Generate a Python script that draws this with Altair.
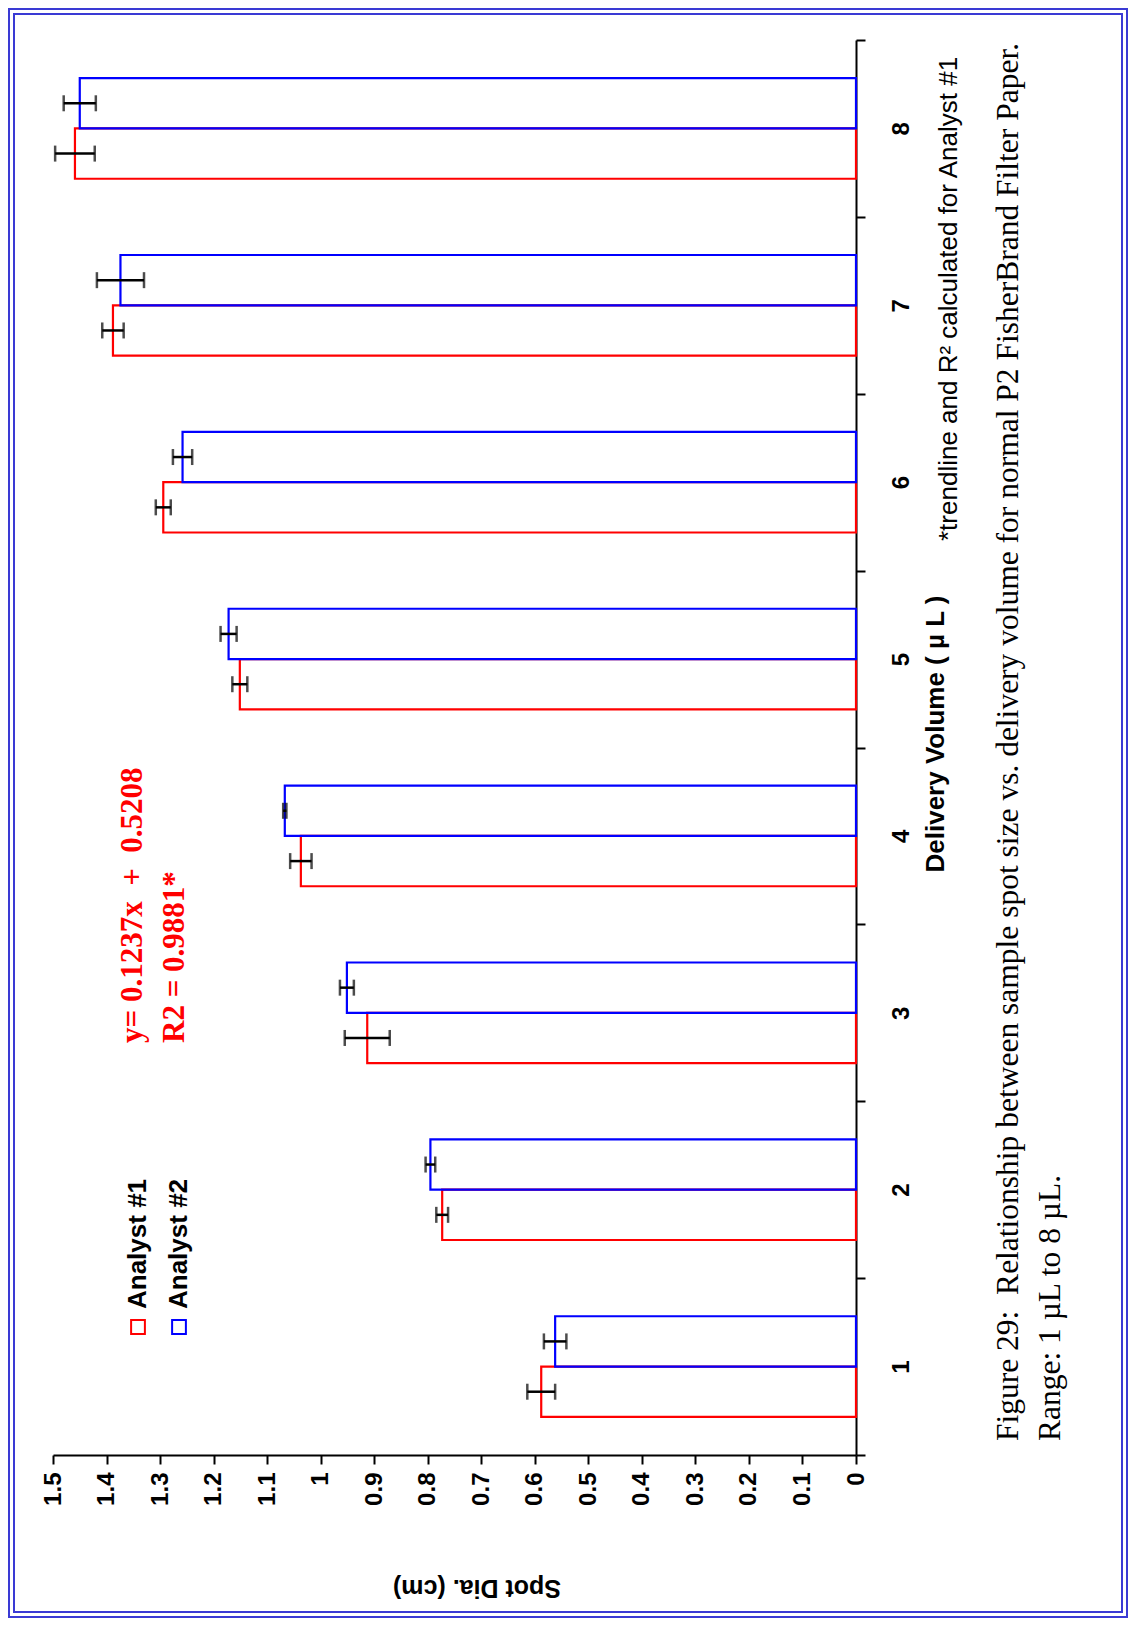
import altair as alt
import pandas as pd

# ---- data ----
volumes = ["1", "2", "3", "4", "5", "6", "7", "8"]
analysts = ["Analyst #1", "Analyst #2"]
analyst1 = [0.588, 0.773, 0.913, 1.037, 1.151, 1.294, 1.388, 1.459]
analyst1_err = [0.026, 0.011, 0.042, 0.020, 0.014, 0.014, 0.020, 0.037]
analyst2 = [0.562, 0.795, 0.951, 1.067, 1.172, 1.258, 1.374, 1.450]
analyst2_err = [0.021, 0.009, 0.013, 0.003, 0.015, 0.018, 0.044, 0.030]
value_ticks = [i / 10 for i in range(16)]
colors = ["#ff0000", "#0000ff"]

x_title = ["Delivery Volume ( µ L )"]
y_title = ["Spot Dia. (cm)"]
equation = ["y= 0.1237x\u00a0 +\u00a0 0.5208", "R2 = 0.9881*"]
note = ["*trendline and R² calculated for Analyst #1"]
caption = ["Figure 29:\u00a0 Relationship between sample spot size vs. delivery volume for normal P2 FisherBrand Filter Paper.",
           "Range: 1 µL to 8 µL."]

rows = []
for i, v in enumerate(volumes):
    for name, vals, errs in ((analysts[0], analyst1, analyst1_err), (analysts[1], analyst2, analyst2_err)):
        rows.append({"vol": v, "analyst": name, "value": vals[i],
                     "lo": vals[i] - errs[i], "hi": vals[i] + errs[i]})
df = pd.DataFrame(rows)

W, H = 803, 1415
SANS = "Liberation Sans"
SERIF = "Liberation Serif"

y_enc = alt.Y("vol:N", sort=volumes[::-1],
              scale=alt.Scale(paddingInner=0, paddingOuter=0),
              axis=alt.Axis(orient="right", title=None, tickBand="extent",
                            labelAngle=270, labelAlign="center", labelBaseline="top",
                            labelFont=SANS, labelFontWeight="bold", labelFontSize=24,
                            labelColor="black", labelPadding=24,
                            domainColor="black", domainWidth=2,
                            tickColor="black", tickWidth=2, tickSize=9, grid=False))
yoff_enc = alt.YOffset("analyst:N", sort=[analysts[1], analysts[0]],
                       scale=alt.Scale(paddingInner=0, paddingOuter=0.758))
x_scale = alt.Scale(domain=[0, 1.5], reverse=True, nice=False, zero=True)
x_axis = alt.Axis(orient="bottom", title=None, values=value_ticks, format="~g", labelAngle=270,
                  labelAlign="right", labelBaseline="middle",
                  labelFont=SANS, labelFontWeight="bold", labelFontSize=24,
                  labelColor="black", labelPadding=8,
                  domainColor="black", domainWidth=2,
                  tickColor="black", tickWidth=2, tickSize=9, grid=False)
color_enc = alt.Color("analyst:N", scale=alt.Scale(domain=analysts, range=colors), legend=None)

base = alt.Chart(df)
bars = base.mark_bar(filled=False, strokeWidth=2.2).encode(
    x=alt.X("value:Q", scale=x_scale, axis=x_axis),
    y=y_enc, yOffset=yoff_enc, color=color_enc)
err = base.mark_rule(color="black", strokeWidth=2.5).encode(
    x=alt.X("lo:Q", scale=x_scale), x2="hi:Q", y=y_enc, yOffset=yoff_enc)
cap_lo = base.mark_tick(color="black", thickness=2.5, size=16).encode(
    x=alt.X("lo:Q", scale=x_scale), y=y_enc, yOffset=yoff_enc)
cap_hi = base.mark_tick(color="black", thickness=2.5, size=16).encode(
    x=alt.X("hi:Q", scale=x_scale), y=y_enc, yOffset=yoff_enc)


def label(texts, idx, x, y, font, size, weight="normal", color="black",
          angle=270, align="left", baseline="middle"):
    return alt.Chart(alt.Data(values=[{"t": texts[idx]}])).mark_text(
        font=font, fontSize=size, fontWeight=weight, color=color,
        angle=angle, align=align, baseline=baseline).encode(
        text="t:N", x=alt.value(x), y=alt.value(y))


def square(idx, x, y):
    return alt.Chart(alt.Data(values=[{"a": analysts[idx]}])).mark_point(
        shape="square", filled=False, size=190, strokeWidth=2, color=colors[idx], opacity=1).encode(
        x=alt.value(x), y=alt.value(y))


def frame(x1, y1, x2, y2):
    return alt.Chart(alt.Data(values=[{"f": 1}])).mark_rect(
        filled=False, stroke="#3a3ad4", strokeWidth=2).encode(
        x=alt.value(x1), x2=alt.value(x2), y=alt.value(y1), y2=alt.value(y2))


layers = [
    frame(-44, -31, 1074, 1577),
    frame(-39, -26, 1069, 1572),
    bars, err, cap_lo, cap_hi,
    label(x_title, 0, 883, 694, SANS, 26, "bold", align="center"),
    label(y_title, 0, 424, 1548, SANS, 25, "bold", angle=180, align="center"),
    label(equation, 0, 80, 1003, SERIF, 31, "bold", color="#ff0000"),
    label(equation, 1, 122, 1003, SERIF, 31, "bold", color="#ff0000"),
    label(note, 0, 896, 501, SANS, 26),
    label(caption, 0, 956, 1401, SERIF, 31.5),
    label(caption, 1, 998, 1401, SERIF, 31.5),
    square(0, 85, 1287),
    square(1, 126, 1287),
    label(analysts, 0, 85, 1269, SANS, 26, "bold"),
    label(analysts, 1, 126, 1269, SANS, 26, "bold"),
]

chart = alt.layer(*layers).properties(
    width=W, height=H,
    autosize=alt.AutoSizeParams(type="none"),
    padding={"left": 45, "top": 32, "right": 272, "bottom": 163},
    background="white",
).configure_view(stroke=None)

chart.save("out.html", embed_options={"renderer": "svg", "actions": False})
